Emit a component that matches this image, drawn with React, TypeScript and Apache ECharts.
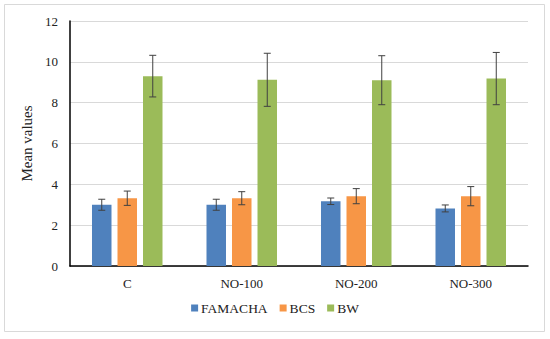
import React, { useEffect, useRef } from "react";
import * as echarts from "echarts";

const categories = ["C", "NO-100", "NO-200", "NO-300"];
const seriesNames = ["FAMACHA", "BCS", "BW"];
const famacha = [3.0, 3.0, 3.17, 2.82];
const famachaErr = [0.27, 0.27, 0.16, 0.17];
const bcs = [3.32, 3.32, 3.42, 3.42];
const bcsErr = [0.35, 0.32, 0.37, 0.47];
const bw = [9.3, 9.12, 9.1, 9.18];
const bwErr = [1.02, 1.3, 1.2, 1.28];
const yTicks = { min: 0, max: 12, interval: 2 };

const colors = ["#4F81BD", "#F79646", "#9BBB59"];
const BAR_W = 19.5;
const STEP = 25.5;

export default function App() {
  const ref = useRef<HTMLDivElement>(null);
  useEffect(() => {
    if (!ref.current) return;
    const chart = echarts.init(ref.current, undefined, { renderer: "svg" });
    const values = [famacha, bcs, bw];
    const errs = [famachaErr, bcsErr, bwErr];
    const font = "Liberation Serif";

    const barSeries = seriesNames.map((name, i) => ({
      name,
      type: "bar",
      data: values[i],
      barWidth: BAR_W,
      barGap: "30.8%",
      itemStyle: { color: colors[i] },
    }));

    const errSeries = seriesNames.map((name, i) => ({
      name: name + "-err",
      type: "custom",
      data: values[i].map((v, k) => [k, v - errs[i][k], v + errs[i][k]]),
      z: 10,
      silent: true,
      renderItem: (params: any, api: any) => {
        const x = api.value(0);
        const lo = api.coord([x, api.value(1)]);
        const hi = api.coord([x, api.value(2)]);
        const cx = lo[0] + (i - 1) * STEP;
        const cap = 3.5;
        const style = { stroke: "#404040", lineWidth: 1 };
        return {
          type: "group",
          children: [
            { type: "line", shape: { x1: cx, y1: hi[1], x2: cx, y2: lo[1] }, style },
            { type: "line", shape: { x1: cx - cap, y1: hi[1], x2: cx + cap, y2: hi[1] }, style },
            { type: "line", shape: { x1: cx - cap, y1: lo[1], x2: cx + cap, y2: lo[1] }, style },
          ],
        };
      },
    }));

    chart.setOption({
      animation: false,
      textStyle: { fontFamily: font },
      graphic: [
        {
          type: "rect",
          shape: { x: 4.5, y: 4.5, width: 540, height: 327 },
          style: { fill: "none", stroke: "#d9d9d9", lineWidth: 1 },
        },
      ],
      grid: { left: 70, right: 22, top: 21, bottom: 73 },
      legend: {
        data: seriesNames,
        bottom: 19,
        left: "center",
        icon: "rect",
        itemWidth: 7,
        itemHeight: 7,
        itemGap: 12,
        textStyle: { fontFamily: font, fontSize: 13.5, color: "#222", padding: [0, 0, 0, -2] },
      },
      xAxis: {
        type: "category",
        data: categories,
        axisLine: { lineStyle: { color: "#000", width: 1.5 } },
        axisTick: { show: false },
        axisLabel: { fontFamily: font, fontSize: 13, color: "#222", margin: 11 },
      },
      yAxis: {
        type: "value",
        min: yTicks.min,
        max: yTicks.max,
        interval: yTicks.interval,
        name: "Mean values",
        nameLocation: "middle",
        nameGap: 27,
        nameTextStyle: { fontFamily: font, fontSize: 15, color: "#222" },
        axisLine: { show: true, lineStyle: { color: "#000", width: 1.5 } },
        axisTick: { show: false },
        splitLine: { lineStyle: { color: "#d9d9d9" } },
        axisLabel: { fontFamily: font, fontSize: 13, color: "#222", margin: 12 },
      },
      series: [...barSeries, ...errSeries],
    });
    return () => chart.dispose();
  }, []);
  return (
    <div
      ref={ref}
      style={{ position: "fixed", left: 0, top: 0, width: 550, height: 339, background: "#fff" }}
    />
  );
}
